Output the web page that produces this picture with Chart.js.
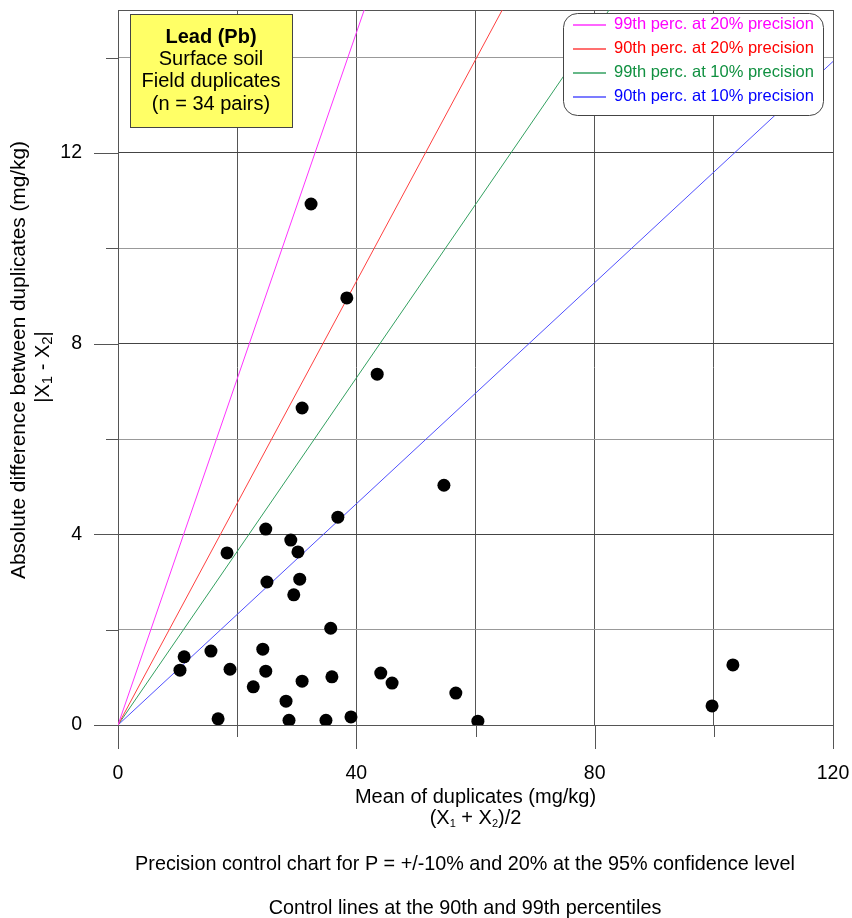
<!DOCTYPE html>
<html>
<head>
<meta charset="utf-8">
<script src="https://cdn.jsdelivr.net/npm/chart.js@4.4.1/dist/chart.umd.min.js"></script>
<style>
  html, body { margin: 0; padding: 0; background: #fff; }
  #wrap { width: 852px; height: 918px; }
</style>
</head>
<body>
<div id="wrap"><canvas id="chart" width="852" height="918"></canvas></div>
<script>
// mean of duplicate pairs (mg/kg) and absolute difference between them
const meanValues = [32.4, 38.4, 43.5, 30.9, 54.7, 24.8, 36.9, 18.3, 29.0, 30.2, 25.0, 30.5,
  29.5, 35.7, 15.6, 24.3, 11.1, 10.4, 18.8, 24.8, 22.7, 30.9, 35.9, 44.1, 46.0, 28.2,
  56.7, 16.8, 28.7, 34.9, 39.1, 60.4, 99.7, 103.2];
const diffValues = [10.93, 8.96, 7.36, 6.65, 5.03, 4.11, 4.36, 3.61, 3.88, 3.63, 3.00, 3.06,
  2.73, 2.03, 1.55, 1.59, 1.43, 1.15, 1.17, 1.13, 0.80, 0.92, 1.01, 1.09, 0.88, 0.50,
  0.67, 0.13, 0.10, 0.10, 0.17, 0.08, 0.40, 1.26];

// control lines: |X1 - X2| = slope * mean
const controlLabels = ["99th perc. at 20% precision", "90th perc. at 20% precision",
  "99th perc. at 10% precision", "90th perc. at 10% precision"];
const controlSlopes = [0.363, 0.2326, 0.182, 0.116];

const xMax = 120;
const yMax = 15;
const xLabelTicks = [0, 40, 80, 120];
const yLabelTicks = [0, 4, 8, 12];

const infoLines = ["Lead (Pb)", "Surface soil", "Field duplicates", "(n = 34 pairs)"];
const footLines = ["Precision control chart for P = +/-10% and 20% at the 95% confidence level",
  "Control lines at the 90th and 99th percentiles"];

const lineColors = ["#ff33ff", "#ff4040", "#33a060", "#5050ff"];
const textColors = ["#ff00ff", "#ff0000", "#109040", "#0000ff"];
const FONT = '"Liberation Sans", Arial, sans-serif';

const points = meanValues.map((x, i) => ({ x: x, y: diffValues[i] }));

const datasets = [{
  type: "scatter",
  data: points,
  backgroundColor: "#000",
  borderWidth: 0,
  pointRadius: 6.5,
}];
controlSlopes.forEach((s, i) => {
  datasets.push({
    type: "line",
    data: [{ x: 0, y: 0 }, { x: xMax, y: xMax * s }],
    borderColor: lineColors[i],
    borderWidth: 1,
    pointRadius: 0,
    fill: false,
  });
});

function richText(ctx, parts, cx, cy, size) {
  let w = 0;
  parts.forEach(p => {
    ctx.font = (p.sub ? p.subSize : size) + "px " + FONT;
    w += ctx.measureText(p.t).width;
  });
  let x = cx - w / 2;
  ctx.textAlign = "left";
  ctx.textBaseline = "middle";
  parts.forEach(p => {
    ctx.font = (p.sub ? p.subSize : size) + "px " + FONT;
    ctx.fillText(p.t, x, p.sub ? cy + p.shift : cy);
    x += ctx.measureText(p.t).width;
  });
}

function noPad(s) {
  s.paddingTop = 0;
  s.paddingBottom = 0;
  s.paddingLeft = 0;
  s.paddingRight = 0;
}

const framePlugin = {
  id: "frame",
  beforeDatasetsDraw(chart) {
    const { ctx, chartArea: a, scales } = chart;
    ctx.save();
    ctx.strokeStyle = "#555";
    ctx.lineWidth = 1;
    ctx.strokeRect(a.left + 0.5, a.top + 0.5, a.right - a.left, a.bottom - a.top);
    ctx.beginPath();
    scales.x.ticks.forEach(t => {
      const px = Math.round(scales.x.getPixelForValue(t.value)) + 0.5;
      const len = xLabelTicks.includes(t.value) ? 24 : 12;
      ctx.moveTo(px, a.bottom);
      ctx.lineTo(px, a.bottom + len);
    });
    scales.y.ticks.forEach(t => {
      if (t.value % 2 !== 0) return;
      const py = Math.round(scales.y.getPixelForValue(t.value)) + 0.5;
      const len = yLabelTicks.includes(t.value) ? 24 : 12;
      ctx.moveTo(a.left - len, py);
      ctx.lineTo(a.left, py);
    });
    ctx.stroke();
    ctx.restore();
  },
  afterDraw(chart) {
    const { ctx, chartArea: a } = chart;
    ctx.save();

    // info box
    ctx.fillStyle = "#ffff66";
    ctx.strokeStyle = "#444";
    ctx.lineWidth = 1;
    ctx.fillRect(130.5, 14.5, 162, 113);
    ctx.strokeRect(130.5, 14.5, 162, 113);
    ctx.fillStyle = "#000";
    ctx.textAlign = "center";
    ctx.textBaseline = "middle";
    infoLines.forEach((t, i) => {
      ctx.font = (i === 0 ? "bold " : "") + "20px " + FONT;
      ctx.fillText(t, 211, 37 + i * 22.4);
    });

    // legend
    ctx.beginPath();
    ctx.roundRect(563.5, 13.5, 260, 102, 14);
    ctx.fillStyle = "#fff";
    ctx.fill();
    ctx.strokeStyle = "#444";
    ctx.stroke();
    ctx.font = "16.5px " + FONT;
    ctx.textAlign = "left";
    controlLabels.forEach((t, i) => {
      const y = 24.5 + i * 24.1;
      ctx.strokeStyle = lineColors[i];
      ctx.lineWidth = 1.5;
      ctx.beginPath();
      ctx.moveTo(573, Math.round(y));
      ctx.lineTo(606, Math.round(y));
      ctx.stroke();
      ctx.fillStyle = textColors[i];
      ctx.fillText(t, 614, y);
    });

    // axis titles
    const cx = (a.left + a.right) / 2;
    ctx.fillStyle = "#000";
    ctx.textAlign = "center";
    ctx.font = "20px " + FONT;
    ctx.fillText("Mean of duplicates (mg/kg)", cx, 797);
    richText(ctx, [{ t: "(X" }, { t: "1", sub: true, subSize: 11, shift: 6 }, { t: " + X" },
      { t: "2", sub: true, subSize: 11, shift: 6 }, { t: ")/2" }], cx, 818, 20);

    ctx.save();
    ctx.translate(19, 360);
    ctx.rotate(-Math.PI / 2);
    ctx.textAlign = "center";
    ctx.font = "20.8px " + FONT;
    ctx.fillText("Absolute difference between duplicates (mg/kg)", 0, 0);
    ctx.restore();
    ctx.save();
    ctx.translate(43, 367);
    ctx.rotate(-Math.PI / 2);
    richText(ctx, [{ t: "|X" }, { t: "1", sub: true, subSize: 15, shift: 5 }, { t: " - X" },
      { t: "2", sub: true, subSize: 15, shift: 5 }, { t: "|" }], 0, 0, 20);
    ctx.restore();

    ctx.textAlign = "center";
    ctx.font = "19.8px " + FONT;
    footLines.forEach((t, i) => ctx.fillText(t, 465, 865 + i * 44));
    ctx.restore();
  },
};

new Chart(document.getElementById("chart"), {
  data: { datasets: datasets },
  options: {
    responsive: false,
    devicePixelRatio: 1,
    animation: false,
    layout: { padding: { top: 10, right: 19, left: 0, bottom: 0 } },
    plugins: { legend: { display: false }, tooltip: { enabled: false } },
    scales: {
      x: {
        type: "linear",
        min: 0,
        max: xMax,
        afterFit: s => { s.height = 193; noPad(s); },
        border: { display: false },
        grid: {
          drawTicks: false,
          color: c => (c.tick.value === 0 || c.tick.value === xMax) ? "rgba(0,0,0,0)" : "#555",
        },
        ticks: {
          stepSize: 20,
          padding: 37,
          color: "#000",
          font: { family: FONT, size: 19.5 },
          callback: v => xLabelTicks.includes(v) ? v : "",
        },
      },
      y: {
        type: "linear",
        min: 0,
        max: yMax,
        afterFit: s => { s.width = 118; noPad(s); },
        border: { display: false },
        grid: {
          drawTicks: false,
          color: c => c.tick.value === 0 || c.tick.value === yMax ? "rgba(0,0,0,0)"
            : (yLabelTicks.includes(c.tick.value) ? "#444" : "#999"),
        },
        ticks: {
          stepSize: 2,
          padding: 36,
          color: "#000",
          font: { family: FONT, size: 19.5 },
          callback: v => yLabelTicks.includes(v) ? v : "",
        },
      },
    },
  },
  plugins: [framePlugin],
});
</script>
</body>
</html>
